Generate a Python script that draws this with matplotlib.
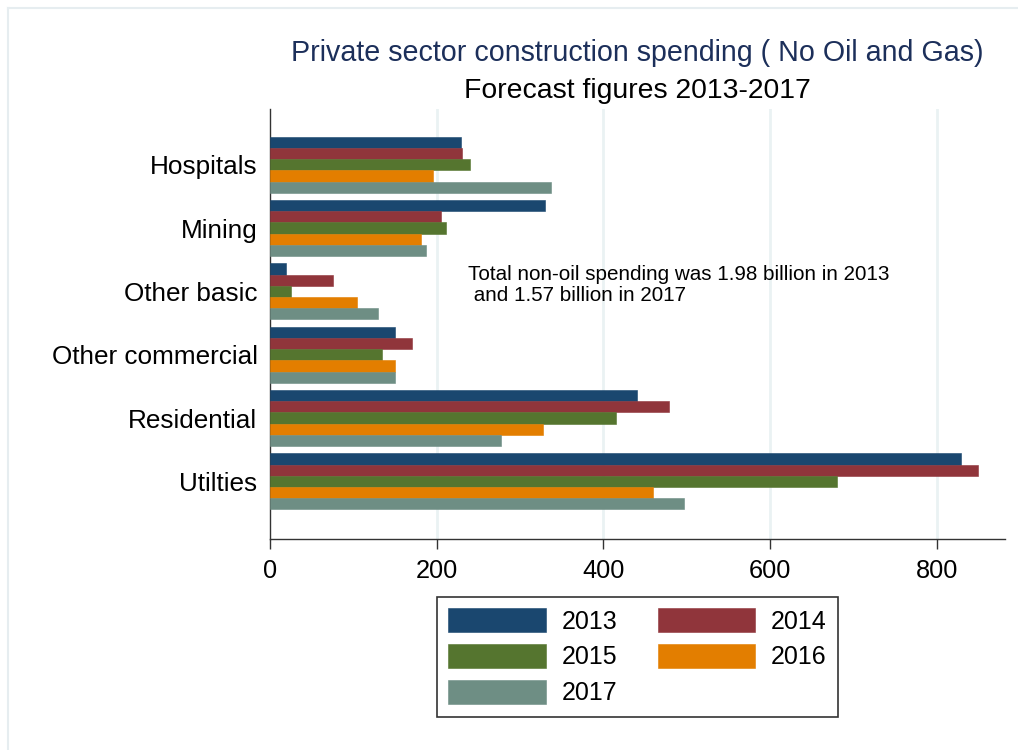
import matplotlib
matplotlib.use("Agg")
import matplotlib.pyplot as plt
import numpy as np
from matplotlib.lines import Line2D
from matplotlib.patches import Patch

categories = ["Hospitals", "Mining", "Other basic", "Other commercial", "Residential", "Utilties"]
years = ["2013", "2014", "2015", "2016", "2017"]
v2013 = [229, 330, 19, 150, 440, 829]
v2014 = [230, 205, 76, 170, 479, 850]
v2015 = [240, 211, 25, 134, 415, 680]
v2016 = [196, 181, 104, 150, 328, 459]
v2017 = [337, 187, 130, 150, 277, 497]
series = [v2013, v2014, v2015, v2016, v2017]
colors = ["#1a476f", "#90353b", "#55752f", "#e37e00", "#6e8e84"]
xticks = [0, 200, 400, 600, 800]

title = "Private sector construction spending ( No Oil and Gas)"
subtitle = "Forecast figures 2013-2017"
note = "Total non-oil spending was 1.98 billion in 2013\n and 1.57 billion in 2017"

plt.rcParams['font.family'] = ['Liberation Sans', 'DejaVu Sans']

W, H = 1018, 750
fig = plt.figure(figsize=(W / 100, H / 100), dpi=100)
ax = fig.add_axes([270 / W, 1 - 539 / H, (1005 - 270) / W, (539 - 109) / H])

y = np.arange(len(categories))
bh = 0.177
handles = []
for i, (vals, c) in enumerate(zip(series, colors)):
    offs = (i - 2) * bh
    ax.barh(y + offs, vals, height=bh, color=c, edgecolor=c, linewidth=0.4, zorder=3)
    handles.append(Patch(facecolor=c, edgecolor=c, linewidth=0.4))

ax.set_ylim(5.91, -0.88)
ax.set_xlim(0, 882)
ax.set_yticks(y)
ax.set_yticklabels(categories, fontsize=18.8)
ax.set_xticks(xticks)
ax.set_xticklabels([str(t) for t in xticks], fontsize=18.3)
ax.tick_params(axis='y', length=0, pad=9)
ax.tick_params(axis='x', length=7.2, width=1.0, color='#333333', pad=7)

for t in xticks[1:]:
    ax.axvline(t, color='#eaf2f3', linewidth=2, zorder=1)

for s in ['top', 'right']:
    ax.spines[s].set_visible(False)
for s in ['left', 'bottom']:
    ax.spines[s].set_color('#333333')
    ax.spines[s].set_linewidth(1.0)

fig.text(468 / W, 1 - 285 / H, note, fontsize=14.9, va='center', ha='left', linespacing=1.12,
         transform=fig.transFigure)

cx = 637.5 / W
fig.text(cx, 1 - 53 / H, title, fontsize=20.6, color='#1c2f5a', ha='center', va='center')
fig.text(cx, 1 - 91 / H, subtitle, fontsize=20.4, color='black', ha='center', va='center')

order = [0, 2, 4, 1, 3]
leg = fig.legend([handles[i] for i in order], [years[i] for i in order],
                 loc='upper center', bbox_to_anchor=(cx, 1 - 597 / H), ncol=2,
                 fontsize=18, frameon=True, fancybox=False, edgecolor='black',
                 handlelength=3.9, handleheight=1.08, labelspacing=0.42,
                 columnspacing=1.6, handletextpad=0.64, borderpad=0.45,
                 borderaxespad=0)
leg.get_frame().set_linewidth(1.2)

fig.add_artist(Line2D([7.5 / W, 1], [1 - 7.5 / H, 1 - 7.5 / H], color='#e6edf0', linewidth=1.5,
                      transform=fig.transFigure))
fig.add_artist(Line2D([7.5 / W, 7.5 / W], [0, 1 - 7.5 / H], color='#e6edf0', linewidth=1.5,
                      transform=fig.transFigure))

fig.savefig("out.png", dpi=100)
